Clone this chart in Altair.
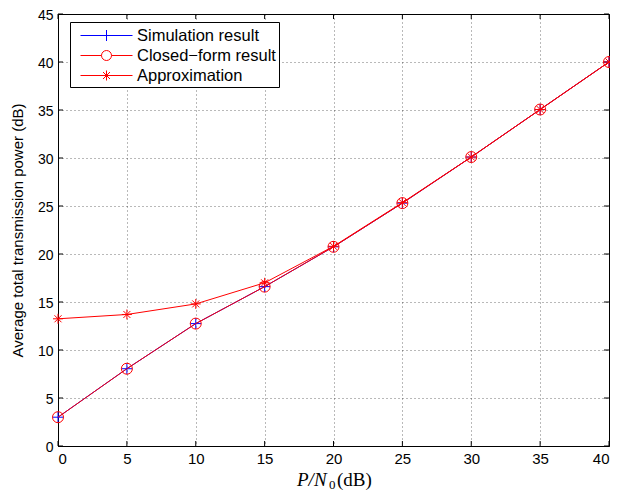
import altair as alt
import pandas as pd

snr = [0, 5, 10, 15, 20, 25, 30, 35, 40]
sim = [3.0, 8.05, 12.75, 16.6, 20.75, 25.3, 30.1, 35.05, 40.0]
closed = [3.0, 8.05, 12.75, 16.6, 20.75, 25.3, 30.1, 35.05, 40.0]
approx = [13.25, 13.7, 14.8, 17.0, 20.8, 25.35, 30.1, 35.05, 40.0]
series = ["Simulation result", "Closed\u2212form result", "Approximation"]
colors = ["#0000ff", "#ff0000", "#ff0000"]
xticks = [0, 5, 10, 15, 20, 25, 30, 35, 40]
yticks = [0, 5, 10, 15, 20, 25, 30, 35, 40, 45]
ytitle = "Average total transmission power (dB)"
xtitle_parts = ["P/N", "0", "(dB)"]

PLUS = "M-1,0H1M0,-1V1"
CIRC = "M-1,0A1,1,0,1,0,1,0A1,1,0,1,0,-1,0"
STAR = "M-1,0H1M0,-1V1M-0.7,-0.7L0.7,0.7M-0.7,0.7L0.7,-0.7"
marker_paths = [PLUS, CIRC, STAR]
marker_sizes = [120, 121, 100]
# legend symbols: 1 unit = 10px (symbolSize 400)
legend_paths = [
    "M-0.3,0H4.9M2.3,-0.55V0.55",
    "M-0.3,0H1.8M2.8,0H4.9M1.8,0A0.5,0.5,0,1,0,2.8,0A0.5,0.5,0,1,0,1.8,0",
    "M-0.3,0H4.9M2.3,-0.5V0.5M1.95,-0.35L2.65,0.35M1.95,0.35L2.65,-0.35",
]

rows = []
for s, vals in zip(series, [sim, closed, approx]):
    for x, y in zip(snr, vals):
        rows.append({"snr": x, "power": y, "series": s})
df = pd.DataFrame(rows)

W, H = 551, 432
xs = alt.Scale(domain=[0, 40], nice=False, zero=False)
ys = alt.Scale(domain=[0, 45], nice=False, zero=False)

xenc = alt.X("snr:Q", scale=xs, axis=alt.Axis(
    values=xticks, title=None, grid=True, ticks=False, labelPadding=5, labelFontSize=15))
yenc = alt.Y("power:Q", scale=ys, axis=alt.Axis(
    values=yticks, title=ytitle, grid=True, ticks=False, labelOffset=1,
    titleFontSize=15, titleFontWeight="normal", titlePadding=12, labelPadding=5))

base = alt.Chart(df)
layers = []
for s, c, p, sz in zip(series, colors, marker_paths, marker_sizes):
    sub = base.transform_filter(alt.datum.series == s)
    layers.append(sub.mark_line(color=c, strokeWidth=1).encode(x=xenc, y=yenc))
    layers.append(sub.mark_point(color=c, shape=p, size=sz, filled=False,
                                 strokeWidth=1, opacity=1).encode(x=xenc, y=yenc))

legend_layer = base.transform_filter("false").mark_point(filled=False, opacity=1, strokeWidth=1).encode(
    x=xenc, y=yenc,
    color=alt.Color("series:N", scale=alt.Scale(domain=series, range=colors),
                    legend=alt.Legend(title=None, orient="none", legendX=12, legendY=8)),
    shape=alt.Shape("series:N", scale=alt.Scale(domain=series, range=legend_paths)),
)

tdf_x = pd.DataFrame({"t": xticks})
tdf_y = pd.DataFrame({"t": yticks})
tick_layers = [
    alt.Chart(tdf_x).mark_rule(color="black", strokeWidth=1).encode(
        x=alt.X("t:Q", scale=xs), y=alt.value(H), y2=alt.value(H - 5)),
    alt.Chart(tdf_x).mark_rule(color="black", strokeWidth=1).encode(
        x=alt.X("t:Q", scale=xs), y=alt.value(0), y2=alt.value(5)),
    alt.Chart(tdf_y).mark_rule(color="black", strokeWidth=1).encode(
        y=alt.Y("t:Q", scale=ys), x=alt.value(0), x2=alt.value(5)),
    alt.Chart(tdf_y).mark_rule(color="black", strokeWidth=1).encode(
        y=alt.Y("t:Q", scale=ys), x=alt.value(W), x2=alt.value(W - 5)),
]

one = pd.DataFrame({"a": [0]})
title_layers = [
    alt.Chart(one).mark_text(text=xtitle_parts[0], font="Liberation Serif", fontStyle="italic",
                             fontSize=19, align="left", baseline="alphabetic", color="black").encode(
        x=alt.value(239), y=alt.value(H + 40)),
    alt.Chart(one).mark_text(text=xtitle_parts[1], font="Liberation Serif",
                             fontSize=13, align="left", baseline="alphabetic", color="black").encode(
        x=alt.value(271), y=alt.value(H + 43)),
    alt.Chart(one).mark_text(text=xtitle_parts[2], font="Liberation Serif",
                             fontSize=19, align="left", baseline="alphabetic", color="black").encode(
        x=alt.value(279), y=alt.value(H + 40)),
]

chart = alt.layer(*tick_layers, *layers, legend_layer, *title_layers).properties(
    width=W, height=H,
    autosize=alt.AutoSizeParams(type="none"),
    padding={"left": 50, "top": 6, "right": 1, "bottom": 47},
).configure_view(stroke="black", strokeWidth=1).configure_axis(
    labelFont="Liberation Sans", labelFontSize=14, labelColor="black",
    titleFont="Liberation Sans", titleColor="black",
    domainColor="black", gridColor="#000000", gridDash=[1, 3], gridOpacity=0.55,
).configure_legend(
    strokeColor="black", fillColor="white", padding=3,
    labelFont="Liberation Sans", labelFontSize=16.5, labelColor="black",
    symbolSize=400, symbolStrokeWidth=1, labelOffset=43, rowPadding=1,
    labelLimit=400,
)

chart.save("out.html", embed_options={"renderer": "svg", "actions": False})
